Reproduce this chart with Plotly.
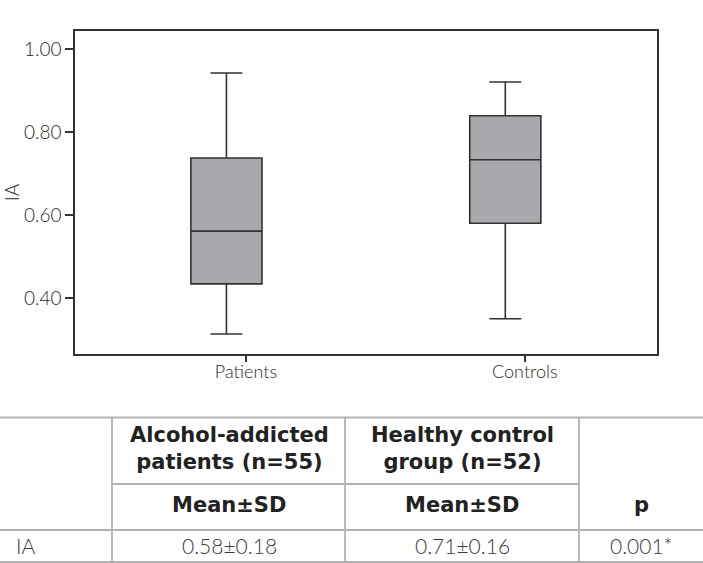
import plotly.graph_objects as go

# ---- data ----
groups = ["Patients", "Controls"]
lower_whisker = [0.313, 0.350]
q1_vals = [0.434, 0.580]
median_vals = [0.561, 0.733]
q3_vals = [0.737, 0.839]
upper_whisker = [0.942, 0.920]
ytick_vals = [0.40, 0.60, 0.80, 1.00]

table_header_top = ["", "Alcohol-addicted<br>patients (n=55)", "Healthy control<br>group (n=52)", ""]
table_header_sub = ["", "Mean±SD", "Mean±SD", "p"]
table_row = ["IA", "0.58±0.18", "0.71±0.16", "0.001*"]

# ---- layout helpers (pixel -> paper) ----
W, H = 703, 563
L, R, T, B = 75, 657, 31, 354
def px(x):
    return (x - L) / (R - L)
def py(y):
    return (B - y) / (B - T)

FONT = "Lato"
HFONT = "DejaVu Sans"
DARK = "#333333"
GRID = "#b3b3b3"

box_pos = [0, 1]
fig = go.Figure()
fig.add_trace(go.Box(
    x=box_pos,
    q1=q1_vals, median=median_vals, q3=q3_vals,
    lowerfence=lower_whisker, upperfence=upper_whisker,
    boxpoints=False,
    fillcolor="#a8a9ac",
    line=dict(color=DARK, width=1.6),
    whiskerwidth=0.45,
    width=0.255,
    showlegend=False,
    hoverinfo="skip",
))

fig.update_layout(
    width=W, height=H,
    margin=dict(l=L, r=W - R, t=T, b=H - B),
    paper_bgcolor="white", plot_bgcolor="white",
    font=dict(family=FONT, color=DARK, size=18),
    xaxis=dict(
        range=[-0.543, 1.544],
        tickvals=[p + 0.07 for p in box_pos], ticktext=groups,
        ticks="outside", ticklen=6, tickwidth=1.5, tickcolor=DARK,
        ticklabelstandoff=-5,
        showline=True, mirror=True, linecolor=DARK, linewidth=1.5,
        showgrid=False, zeroline=False,
        tickfont=dict(family=FONT, size=18, color="#2a2a2a", weight=300),
    ),
    yaxis=dict(
        range=[0.265, 1.043],
        tickvals=ytick_vals, tickformat=".2f",
        ticks="outside", ticklen=8, tickwidth=1.5, tickcolor=DARK,
        showline=True, mirror=True, linecolor=DARK, linewidth=1.5,
        showgrid=False, zeroline=False,
        tickfont=dict(family=FONT, size=19, color="#2a2a2a", weight=300),
        title=dict(text="IA", standoff=0, font=dict(family=FONT, size=19, color="#2a2a2a", weight=300)),
    ),
)

# ---- table ----
shapes = []
def hline(y, x0, x1):
    shapes.append(dict(type="line", xref="paper", yref="paper",
                       x0=px(x0), x1=px(x1), y0=py(y), y1=py(y),
                       line=dict(color=GRID, width=1.8)))
def vline(x, y0, y1):
    shapes.append(dict(type="line", xref="paper", yref="paper",
                       x0=px(x), x1=px(x), y0=py(y0), y1=py(y1),
                       line=dict(color=GRID, width=1.8)))

hline(417.5, 0, 703)
hline(484, 112, 579)
hline(530, 0, 703)
hline(562, 0, 703)
for xv in [112, 345, 579]:
    vline(xv, 417.5, 563)

col_centers = [14, 229, 462, 641]
annotations = []
def text(x, y, s, bold=False, anchor="center"):
    annotations.append(dict(
        xref="paper", yref="paper", x=px(x), y=py(y), text=s,
        showarrow=False, xanchor=anchor, yanchor="middle",
        font=dict(family=HFONT if bold else FONT, size=21 if bold else 21,
                  color="#222222" if bold else "#3a3a3a",
                  weight=700 if bold else 300),
    ))

for i in range(4):
    if table_header_top[i]:
        text(col_centers[i], 448, table_header_top[i], bold=True)
    if table_header_sub[i]:
        text(col_centers[i], 505, table_header_sub[i], bold=True)
    anchor = "left" if i == 0 else "center"
    text(col_centers[i], 545, table_row[i], anchor=anchor)

fig.update_layout(shapes=shapes, annotations=annotations)

fig.write_html("out.html", config={"displayModeBar": False},
               post_script="document.body.style.margin='0';")
